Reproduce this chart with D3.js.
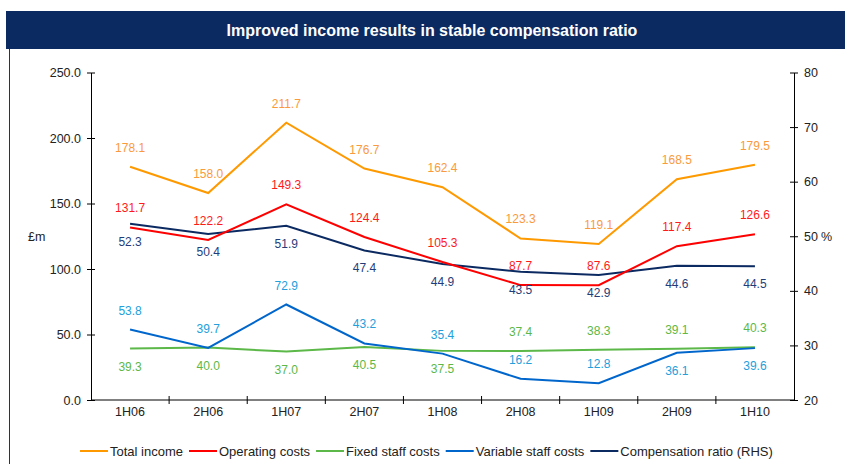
<!DOCTYPE html>
<html><head><meta charset="utf-8">
<script src="https://cdn.jsdelivr.net/npm/d3@7"></script>
<style>body{margin:0;background:#fff}svg{display:block;font-family:"Liberation Sans",Arial,sans-serif}</style>
</head><body><svg id="c" width="845" height="464"></svg>
<script>
const categories = ["1H06","2H06","1H07","2H07","1H08","2H08","1H09","2H09","1H10"];
const totalIncome = [178.1,158.0,211.7,176.7,162.4,123.3,119.1,168.5,179.5];
const operatingCosts = [131.7,122.2,149.3,124.4,105.3,87.7,87.6,117.4,126.6];
const fixedStaff = [39.3,40.0,37.0,40.5,37.5,37.4,38.3,39.1,40.3];
const variableStaff = [53.8,39.7,72.9,43.2,35.4,16.2,12.8,36.1,39.6];
const compRatio = [52.3,50.4,51.9,47.4,44.9,43.5,42.9,44.6,44.5];
const leftTicks = [0,50,100,150,200,250];
const rightTicks = [20,30,40,50,60,70,80];
// label placement: 1 above, -1 below
const fixedPos = [-1,-1,-1,-1,-1,1,1,1,1];
const variablePos = [1,1,1,1,1,1,1,-1,-1];

const svg = d3.select("#c");
const L = 91, R = 794, T = 72.5, B = 400;
const x = d3.scaleBand().domain(categories).range([L,R]);
const yL = d3.scaleLinear().domain([0,250]).range([B,T]);
const yR = d3.scaleLinear().domain([20,80]).range([B,T]);

// title bar
svg.append("rect").attr("x",6).attr("y",11).attr("width",839).attr("height",38).attr("fill","#0c2a62");
svg.append("text").attr("x",432).attr("y",35.5).attr("text-anchor","middle").attr("fill","#fff")
  .attr("font-size",16).attr("font-weight","bold").text("Improved income results in stable compensation ratio");
svg.append("line").attr("x1",9.5).attr("x2",9.5).attr("y1",49).attr("y2",464).attr("stroke","#333").attr("stroke-width",1);

// axes
const axL = svg.append("g").attr("transform",`translate(${L},0)`)
  .call(d3.axisLeft(yL).tickValues(leftTicks).tickFormat(d3.format(".1f")).tickSizeInner(4).tickSizeOuter(0));
const axR = svg.append("g").attr("transform",`translate(${R},0)`)
  .call(d3.axisRight(yR).tickValues(rightTicks).tickSizeInner(4).tickSizeOuter(0));
[axL,axR].forEach(a=>{a.select(".domain").attr("stroke","#000");a.selectAll(".tick line").attr("stroke","#000");
  a.selectAll("text").attr("font-size",12.5).attr("fill","#222").attr("font-family","Liberation Sans, Arial");});
axL.selectAll(".tick line").attr("x1",4);
axR.selectAll(".tick line").attr("x1",-4);
axL.selectAll("text").attr("x",-10);
axR.selectAll("text").attr("x",10);

const axB = svg.append("g").attr("transform",`translate(0,${B})`);
axB.append("line").attr("x1",L).attr("x2",R).attr("stroke","#000");
const bounds = categories.slice(1).map(c=>x(c));
axB.selectAll("line.t").data(bounds).join("line").attr("class","t")
  .attr("x1",d=>d).attr("x2",d=>d).attr("y1",-4).attr("y2",4).attr("stroke","#000");
axB.selectAll("text").data(categories).join("text")
  .attr("x",d=>x(d)+x.bandwidth()/2).attr("y",16).attr("text-anchor","middle")
  .attr("font-size",12.5).attr("fill","#222").text(d=>d);

svg.append("text").attr("x",28).attr("y",241).attr("font-size",12.5).attr("fill","#222").text("£m");
svg.append("text").attr("x",821).attr("y",241).attr("font-size",12.5).attr("fill","#222").text("%");

const cx = c => x(c)+x.bandwidth()/2;
const series = [
  {name:"Total income", vals:totalIncome, y:yL, line:"#ff9900", lab:"#fa9a3c", pos:categories.map(()=>1)},
  {name:"Operating costs", vals:operatingCosts, y:yL, line:"#ff0000", lab:"#ff1a1a", pos:categories.map(()=>1)},
  {name:"Fixed staff costs", vals:fixedStaff, y:yL, line:"#5cb848", lab:"#5cb848", pos:fixedPos},
  {name:"Variable staff costs", vals:variableStaff, y:yL, line:"#0066cc", lab:"#22a0dc", pos:variablePos},
  {name:"Compensation ratio (RHS)", vals:compRatio, y:yR, line:"#0c2a62", lab:"#1f3d7a", pos:categories.map(()=>-1)}
];
const drawOrder = [2,3,4,1,0];
drawOrder.forEach(i=>{
  const s = series[i];
  const line = d3.line().x((d,j)=>cx(categories[j])).y(d=>s.y(d));
  svg.append("path").datum(s.vals).attr("d",line).attr("fill","none").attr("stroke",s.line).attr("stroke-width",2);
});
series.forEach(s=>{
  svg.append("g").selectAll("text").data(s.vals).join("text")
    .attr("x",(d,j)=>cx(categories[j])).attr("y",(d,j)=>s.y(d) + (s.pos[j]>0 ? -19 : 18) + 4)
    .attr("text-anchor","middle").attr("font-size",12).attr("fill",s.lab).text(d=>d.toFixed(1));
});

// legend
const lg = svg.append("g").attr("transform","translate(0,451)");
let lx = 80;
series.forEach(s=>{
  lg.append("line").attr("x1",lx).attr("x2",lx+28).attr("y1",0).attr("y2",0).attr("stroke",s.line).attr("stroke-width",2);
  const t = lg.append("text").attr("x",lx+30).attr("y",4.5).attr("font-size",13).attr("fill","#222").text(s.name);
  lx += 30 + t.node().getComputedTextLength() + 6;
});
</script></body></html>
